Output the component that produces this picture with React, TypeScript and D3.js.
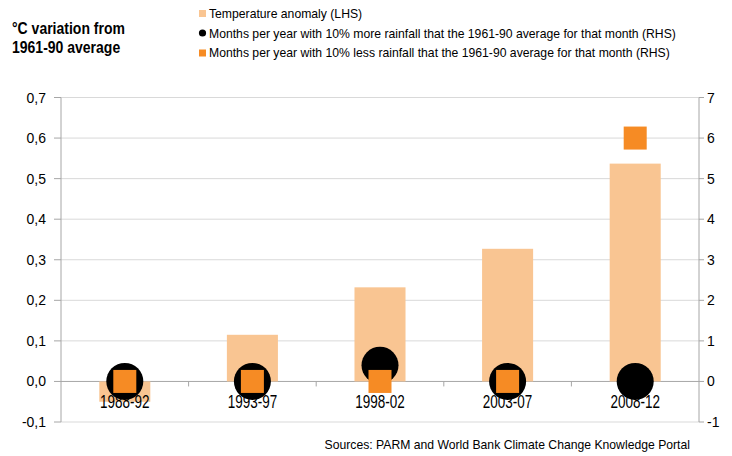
import React from "react";
import * as d3 from "d3";

const categories = ["1988-92", "1993-97", "1998-02", "2003-07", "2008-12"];
const tempAnomaly = [-0.05, 0.115, 0.232, 0.327, 0.537];
const monthsMoreRain = [0, 0, 0.4, 0, 0];
const monthsLessRain = [0, 0, 0, 0, 6];
const leftTicks = [-0.1, 0, 0.1, 0.2, 0.3, 0.4, 0.5, 0.6, 0.7];
const rightTicks = [-1, 0, 1, 2, 3, 4, 5, 6, 7];
const legendLabels = [
  "Temperature anomaly (LHS)",
  "Months per year with 10% more rainfall that the 1961-90 average for that month (RHS)",
  "Months per year with 10% less rainfall that the 1961-90 average for that month (RHS)",
];

const W = 732;
const H = 456;
const FONT = "'Liberation Sans', Arial, sans-serif";

export default function App() {
  const left = 61;
  const right = 699;
  const top = 97.5;
  const bottom = 422;
  const x = d3.scaleBand<string>().domain(categories).range([left, right]).padding(0);
  const yL = d3.scaleLinear().domain([-0.1, 0.7]).range([bottom, top]);
  const yR = d3.scaleLinear().domain([-1, 7]).range([bottom, top]);
  const barW = x.bandwidth() * 0.4;
  const cx = (c: string) => (x(c) as number) + x.bandwidth() / 2;
  const fmtL = (v: number) => d3.format(".1f")(v).replace(".", ",").replace("−", "-");
  const y0 = yL(0);
  const sq = 23;
  const r = 18.5;

  return (
    <svg width={W} height={H} style={{ position: "absolute", left: 0, top: 0, background: "#fff" }} fontFamily={FONT}>
      {/* title */}
      <text transform="translate(12,33.5) scale(1,1.12)" fontSize={14} fontWeight="bold" fill="#000">°C variation from</text>
      <text transform="translate(12,53) scale(1,1.12)" fontSize={14} fontWeight="bold" fill="#000">1961-90 average</text>

      {/* legend */}
      <rect x={199} y={10} width={7} height={7} fill="#f9c592" />
      <circle cx={202.5} cy={33} r={3.6} fill="#000" />
      <rect x={199} y={49.5} width={7} height={7} fill="#f68b24" />
      {legendLabels.map((t, i) => (
        <text key={t} transform={`translate(209,${18 + i * 19.6}) scale(1,1.08)`} fontSize={12.2} fill="#000">{t}</text>
      ))}

      {/* gridlines */}
      {leftTicks.map((t) => (
        <line key={"g" + t} x1={left} x2={right} y1={yL(t)} y2={yL(t)} stroke={t === 0 ? "#a6a6a6" : "#d9d9d9"} strokeWidth={1} />
      ))}

      {/* left axis */}
      <line x1={left} x2={left} y1={top} y2={bottom} stroke="#a6a6a6" />
      {leftTicks.map((t) => (
        <g key={"l" + t}>
          <line x1={left - 7} x2={left} y1={yL(t)} y2={yL(t)} stroke="#a6a6a6" />
          <text transform={`translate(46,${yL(t) + 5}) scale(1,1.08)`} fontSize={14} textAnchor="end" fill="#000">{fmtL(t)}</text>
        </g>
      ))}

      {/* right axis */}
      <line x1={right} x2={right} y1={top} y2={bottom} stroke="#a6a6a6" />
      {rightTicks.map((t) => (
        <g key={"r" + t}>
          <line x1={right} x2={right + 5} y1={yR(t)} y2={yR(t)} stroke="#a6a6a6" />
          <text transform={`translate(707,${yR(t) + 5}) scale(1,1.08)`} fontSize={14} textAnchor="start" fill="#000">{String(t)}</text>
        </g>
      ))}

      {/* bars */}
      {categories.map((c, i) => (
        <rect
          key={"b" + c}
          x={cx(c) - barW / 2}
          y={Math.min(yL(tempAnomaly[i]), y0)}
          width={barW}
          height={Math.abs(yL(tempAnomaly[i]) - y0)}
          fill="#f9c592"
        />
      ))}

      {/* x axis ticks */}
      {categories.slice(1).map((c) => (
        <line key={"xt" + c} x1={x(c) as number} x2={x(c) as number} y1={y0} y2={y0 + 5} stroke="#a6a6a6" />
      ))}

      {/* category labels */}
      {categories.map((c) => (
        <text key={"cl" + c} transform={`translate(${cx(c)},407.5) scale(1,1.3)`} fontSize={13.5} textAnchor="middle" fill="#000">{c}</text>
      ))}

      {/* circles */}
      {categories.map((c, i) => (
        <circle key={"c" + c} cx={cx(c)} cy={yR(monthsMoreRain[i])} r={r} fill="#000" />
      ))}

      {/* squares */}
      {categories.map((c, i) => (
        <rect key={"s" + c} x={cx(c) - sq / 2} y={yR(monthsLessRain[i]) - sq / 2} width={sq} height={sq} fill="#f68b24" />
      ))}

      {/* source */}
      <text transform="translate(690,449) scale(1,1.08)" fontSize={12.2} textAnchor="end" fill="#000">Sources: PARM and World Bank Climate Change Knowledge Portal</text>
    </svg>
  );
}
